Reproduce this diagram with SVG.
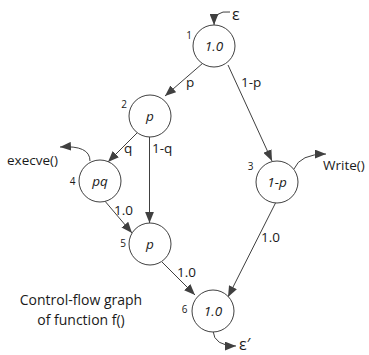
<svg xmlns="http://www.w3.org/2000/svg" width="369" height="355" viewBox="0 0 369 355">
  <style>
    text { font-family: "Open Sans", "Liberation Sans", sans-serif; fill: #1a1a1a; }
    .node circle { fill: #ffffff; stroke: #404040; stroke-width: 1; }
    .val { font-size: 13.5px; font-style: italic; text-anchor: middle; dominant-baseline: central; }
    .num { font-size: 10px; text-anchor: middle; }
    .lbl { font-size: 13.5px; }
    .eps { font-size: 16px; }
    .edges path { fill: none; stroke: #404040; stroke-width: 1; marker-end: url(#arrow); }
    .cap { font-size: 14px; text-anchor: middle; }
  </style>
  <defs>
    <marker id="arrow" viewBox="0 0 10 8" refX="10" refY="4" markerWidth="11" markerHeight="9" markerUnits="userSpaceOnUse" orient="auto">
      <path d="M0,0 L10,4 L0,8 Z" fill="#404040"/>
    </marker>
  </defs>

  <rect width="369" height="355" fill="#ffffff"/>

  <g class="edges" id="edges">
    <path d="M203,63 L165,96"/>
    <path d="M228,65 L272,161"/>
    <path d="M137,133 L108,162"/>
    <path d="M149.5,137 L149.5,223"/>
    <path d="M104,200 L132,233"/>
    <path d="M276,202 L228,297"/>
    <path d="M162,262 L195,295"/>
    <!-- entry, exit and call arcs -->
    <path d="M230,12 Q214,10 214,25"/>
    <path d="M90,161 Q90,145 60,147"/>
    <path d="M294,169 Q300,154 326,154"/>
    <path d="M213,331 Q214,346 236,346"/>
  </g>

  <g id="edge-labels" class="lbl">
    <text x="186" y="87">p</text>
    <text x="241" y="87">1-p</text>
    <text x="124" y="153">q</text>
    <text x="152" y="153">1-q</text>
    <text x="114" y="215">1.0</text>
    <text x="261" y="242">1.0</text>
    <text x="177" y="277">1.0</text>
    <text class="eps" x="232" y="20">ε</text>
    <text class="eps" x="239" y="350">ε′</text>
    <text x="7" y="165">execve()</text>
    <text x="323" y="170">Write()</text>
  </g>

  <g id="node1" class="node">
    <circle cx="214" cy="46" r="21"/>
    <text class="val" x="214" y="46">1.0</text>
    <text class="num" x="189" y="39">1</text>
  </g>
  <g id="node2" class="node">
    <circle cx="150" cy="116" r="21"/>
    <text class="val" x="150" y="116">p</text>
    <text class="num" x="124" y="108">2</text>
  </g>
  <g id="node3" class="node">
    <circle cx="277" cy="182" r="21"/>
    <text class="val" x="277" y="182">1-p</text>
    <text class="num" x="250.5" y="170">3</text>
  </g>
  <g id="node4" class="node">
    <circle cx="100" cy="181" r="21"/>
    <text class="val" x="100" y="181">pq</text>
    <text class="num" x="72.5" y="185">4</text>
  </g>
  <g id="node5" class="node">
    <circle cx="150" cy="244" r="21"/>
    <text class="val" x="150" y="244">p</text>
    <text class="num" x="123" y="247">5</text>
  </g>
  <g id="node6" class="node">
    <circle cx="213" cy="311" r="21"/>
    <text class="val" x="213" y="311">1.0</text>
    <text class="num" x="184.5" y="313">6</text>
  </g>

  <g id="caption">
    <text class="cap" x="81" y="305">Control-flow graph</text>
    <text class="cap" x="81" y="325">of function f()</text>
  </g>
</svg>
